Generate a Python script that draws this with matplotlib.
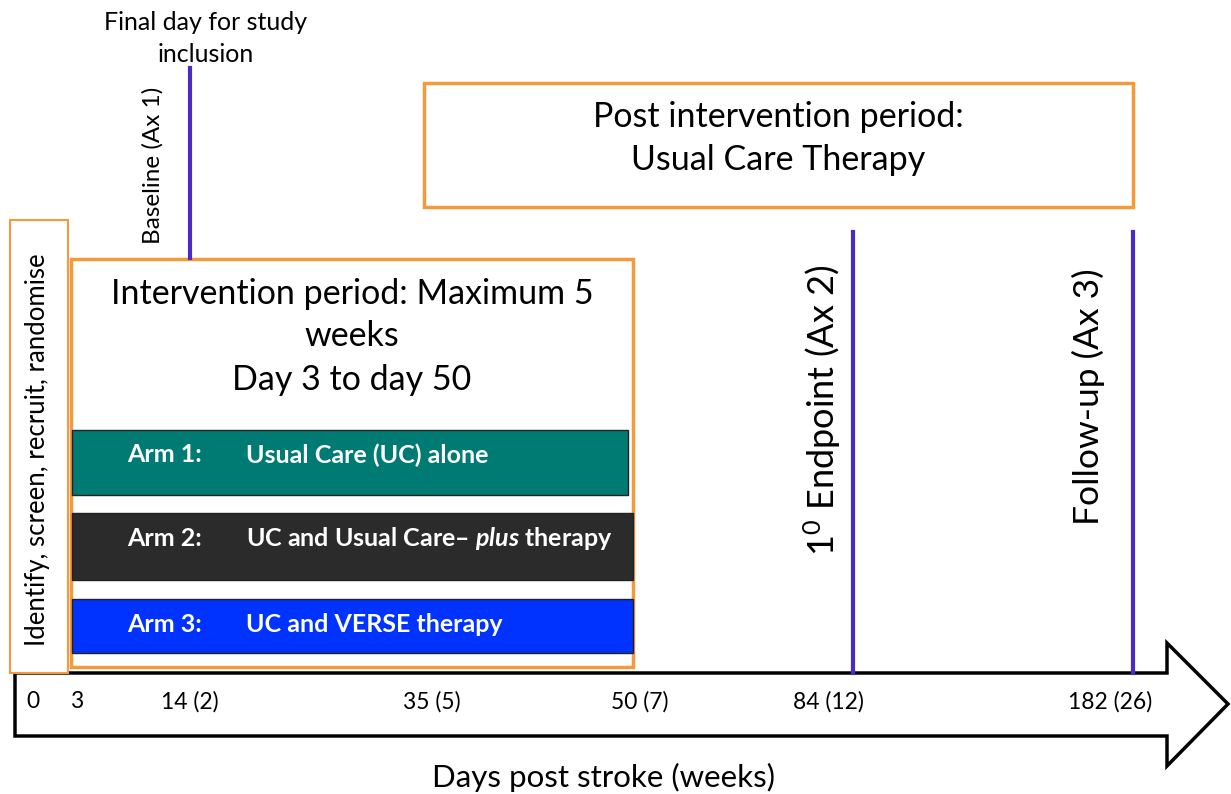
import matplotlib
matplotlib.use("Agg")
import matplotlib.pyplot as plt
from matplotlib.patches import Rectangle, Polygon

plt.rcParams['font.family'] = ['Lato', 'DejaVu Sans']

# ---- data ----
tick_days = [0, 3, 14, 35, 50, 84, 182]
tick_labels = ["0", "3", "14 (2)", "35 (5)", "50 (7)", "84 (12)", "182 (26)"]
arm_names = ["Arm 1:", "Arm 2:", "Arm 3:"]
arm_desc = ["Usual Care (UC) alone", "UC and Usual Care\u2013 $\\it{plus}$ therapy", "UC and VERSE therapy"]
arm_colors = ["#007B74", "#2B2B2B", "#0033FF"]
event_days = [14, 84, 182]
event_labels = ["Baseline (Ax 1)", "1$^{0}$ Endpoint (Ax 2)", "Follow-up (Ax 3)"]

# ---- layout (schematic, pixel space) ----
W, H = 1231, 794
day_to_x = {0: 33, 3: 77, 14: 190, 35: 432, 50: 640, 84: 853, 182: 1133}
label_x_offset = {0: 0, 3: 0, 14: 0, 35: 0, 50: 0, 84: -25, 182: -23}
orange = "#F39A3D"
purple = "#4A2CC4"

plt.rcParams['mathtext.fontset'] = 'custom'
plt.rcParams['mathtext.rm'] = 'Lato'
plt.rcParams['mathtext.it'] = 'Lato:italic:bold'

fig = plt.figure(figsize=(W / 100, H / 100), dpi=100)
ax = fig.add_axes([0, 0, 1, 1])
ax.set_xlim(0, W)
ax.set_ylim(H, 0)
ax.axis("off")

# timeline arrow
arrow = Polygon([(15, 673), (1167, 673), (1167, 643), (1228, 704),
                 (1167, 766), (1167, 736), (15, 736)],
                closed=True, facecolor="white", edgecolor="black", lw=2.5, zorder=2)
ax.add_patch(arrow)
for d, lab in zip(tick_days, tick_labels):
    ax.text(day_to_x[d] + label_x_offset[d], 702, lab, ha="center", va="center",
            fontsize=16.5, zorder=5)
ax.text(603, 777, "Days post stroke (weeks)", ha="center", va="center", fontsize=22.5)

# identify box
ax.add_patch(Rectangle((10, 220), 58, 453, facecolor="white", edgecolor=orange, lw=1.5, zorder=3))
ax.text(38, 450, "Identify, screen, recruit, randomise", rotation=90, ha="center",
        va="center", fontsize=18.5, zorder=4)

# intervention box
ax.add_patch(Rectangle((71, 259), 562, 408, facecolor="white", edgecolor=orange, lw=2.5, zorder=3))
ax.text(352, 294, "Intervention period: Maximum 5", ha="center", va="center", fontsize=24.5, zorder=4)
ax.text(352, 336, "weeks", ha="center", va="center", fontsize=24.5, zorder=4)
ax.text(352, 380, "Day 3 to day 50", ha="center", va="center", fontsize=24.5, zorder=4)

arm_rects = [(72, 430, 556, 65), (72, 513, 561, 67), (72, 599, 561, 54)]
for (x, y, w, h), name, desc, c in zip(arm_rects, arm_names, arm_desc, arm_colors):
    ax.add_patch(Rectangle((x, y), w, h, facecolor=c, edgecolor="#222222", lw=1, zorder=4))
    ty = y + 25
    ax.text(127, ty, name, color="white", fontweight="bold", fontsize=18,
            ha="left", va="center", zorder=5)
    ax.text(246, ty, desc, color="white", fontweight="bold", fontsize=18,
            ha="left", va="center", zorder=5)

# post intervention box
ax.add_patch(Rectangle((424, 83), 709, 124, facecolor="white", edgecolor=orange, lw=2.5, zorder=3))
ax.text(778, 117, "Post intervention period:", ha="center", va="center", fontsize=24.5, zorder=4)
ax.text(778, 160, "Usual Care Therapy", ha="center", va="center", fontsize=24.5, zorder=4)

# event lines
event_spans = {14: (68, 258), 84: (232, 673), 182: (232, 673)}
event_text_pos = {14: (153, 165, 17.5), 84: (822, 410, 26), 182: (1088, 397, 25.5)}
for d, lab in zip(event_days, event_labels):
    y0, y1 = event_spans[d]
    ax.plot([day_to_x[d], day_to_x[d]], [y0, y1], color=purple, lw=3, zorder=3)
    tx, ty, fs = event_text_pos[d]
    ax.text(tx, ty, lab, rotation=90, ha="center", va="center", fontsize=fs, zorder=4)

ax.text(206, 22, "Final day for study", ha="center", va="center", fontsize=18)
ax.text(206, 54, "inclusion", ha="center", va="center", fontsize=18)

fig.savefig("out.png", dpi=100)
